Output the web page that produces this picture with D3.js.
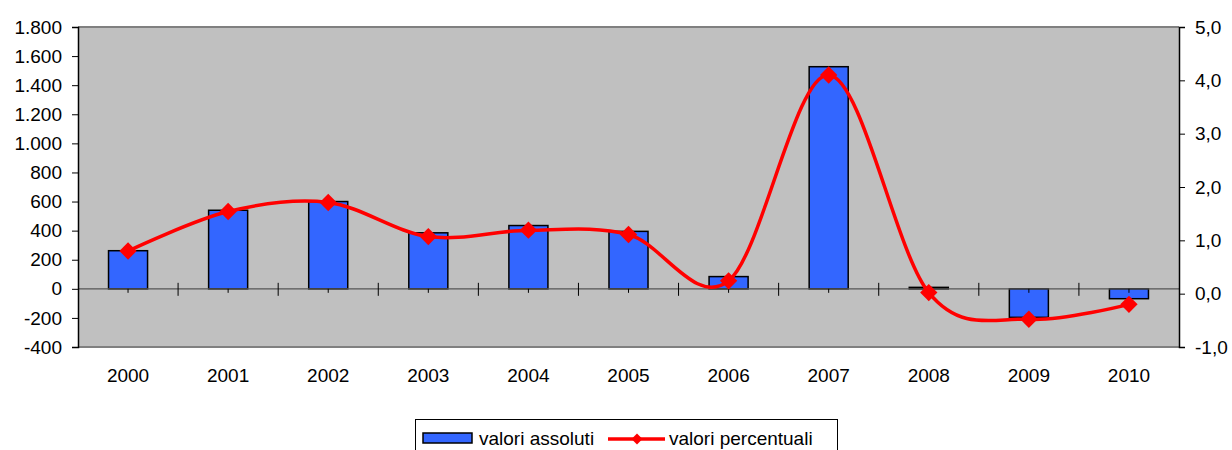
<!DOCTYPE html>
<html lang="it">
<head>
    <meta charset="UTF-8">
    <title>valori assoluti / percentuali</title>
    <script src="https://d3js.org/d3.v7.min.js"></script>
    <style>
        body { margin: 0; background: #fff; }
        text { font-family: "Liberation Sans", Arial, sans-serif; fill: #000; }
    </style>
</head>
<body>
<svg width="1232" height="450"></svg>
<script>
    // data
    let years = ["2000", "2001", "2002", "2003", "2004", "2005", "2006", "2007", "2008", "2009", "2010"]
    let absValues = [262, 540, 600, 385, 435, 395, 84, 1527, 10, -196, -68]
    let pctValues = [0.80, 1.54, 1.71, 1.07, 1.19, 1.11, 0.24, 4.10, 0.02, -0.48, -0.20]
    let leftTicks = [-400, -200, 0, 200, 400, 600, 800, 1000, 1200, 1400, 1600, 1800]
    let rightTicks = [-1, 0, 1, 2, 3, 4, 5]

    let svg = d3.select('svg')
    let plotLeft = 78, plotRight = 1179, plotTop = 27, plotBottom = 347

    let locale = d3.formatLocale({decimal: ",", thousands: ".", grouping: [3], currency: ["", "€"], minus: "-"})
    let fmtLeft = locale.format(",d")
    let fmtRight = locale.format(".1f")

    let x = d3.scaleBand().domain(years).range([plotLeft, plotRight]).padding(0)
    let yL = d3.scaleLinear().domain([-400, 1800]).range([plotBottom, plotTop])
    let yR = d3.scaleLinear().domain([-1, 5]).range([plotBottom, plotTop])
    let cx = d => x(d) + x.step() / 2

    // plot area
    svg.append("rect")
        .attr("x", plotLeft).attr("y", plotTop)
        .attr("width", plotRight - plotLeft).attr("height", plotBottom - plotTop)
        .attr("fill", "#c0c0c0")
    svg.append("line").attr("x1", plotLeft).attr("x2", plotRight).attr("y1", plotTop).attr("y2", plotTop)
        .attr("stroke", "#808080").attr("stroke-width", 2)
    svg.append("line").attr("x1", plotLeft).attr("x2", plotRight).attr("y1", plotBottom).attr("y2", plotBottom)
        .attr("stroke", "#808080").attr("stroke-width", 2)

    // bars
    let barW = x.step() * 0.39
    svg.append("g").selectAll("rect")
        .data(absValues)
        .enter()
        .append("rect")
        .attr("x", (d, i) => cx(years[i]) - barW / 2)
        .attr("y", d => Math.min(yL(d), yL(0)))
        .attr("width", barW)
        .attr("height", d => Math.max(Math.abs(yL(d) - yL(0)), 1))
        .attr("fill", "#3366ff")
        .attr("stroke", "#000")
        .attr("stroke-width", 1.5)

    // zero line with category ticks
    let zeroY = yL(0)
    svg.append("line").attr("x1", plotLeft).attr("x2", plotRight).attr("y1", zeroY).attr("y2", zeroY)
        .attr("stroke", "#555").attr("stroke-width", 1.2)
    let xg = svg.append("g")
    xg.selectAll(".bt")
        .data(years.slice(1))
        .enter()
        .append("line")
        .attr("x1", d => x(d)).attr("x2", d => x(d))
        .attr("y1", zeroY - 6).attr("y2", zeroY + 7)
        .attr("stroke", "#000").attr("stroke-width", 1)
    xg.selectAll(".ct")
        .data(years)
        .enter()
        .append("line")
        .attr("x1", cx).attr("x2", cx)
        .attr("y1", zeroY).attr("y2", zeroY + 4)
        .attr("stroke", "#000").attr("stroke-width", 1)

    // x labels
    svg.append("g").selectAll("text")
        .data(years)
        .enter()
        .append("text")
        .attr("x", cx)
        .attr("y", 382)
        .attr("text-anchor", "middle")
        .style("font-size", "19px")
        .text(d => d)

    // left axis
    let axL = svg.append("g")
        .attr("transform", `translate(${plotLeft},0)`)
        .call(d3.axisLeft(yL).tickValues(leftTicks).tickFormat(fmtLeft).tickSizeOuter(0).tickSize(6).tickPadding(10))
    axL.select(".domain").attr("stroke", "#000").attr("stroke-width", 1.5)
    axL.selectAll("text").style("font-size", "19px").attr("font-family", null)

    // right axis
    let axR = svg.append("g")
        .attr("transform", `translate(${plotRight},0)`)
        .call(d3.axisRight(yR).tickValues(rightTicks).tickFormat(fmtRight).tickSizeOuter(0).tickSize(6).tickPadding(10))
    axR.select(".domain").attr("stroke", "#000").attr("stroke-width", 1.5)
    axR.selectAll("text").style("font-size", "19px").attr("font-family", null)

    // percent line
    let line = d3.line()
        .x((d, i) => cx(years[i]))
        .y(d => yR(d))
        .curve(d3.curveCardinal.tension(0))
    svg.append("path")
        .datum(pctValues)
        .attr("d", line)
        .attr("fill", "none")
        .attr("stroke", "#ff0000")
        .attr("stroke-width", 3.5)

    svg.append("g").selectAll("path")
        .data(pctValues)
        .enter()
        .append("path")
        .attr("transform", (d, i) => `translate(${cx(years[i])},${yR(d)}) rotate(45)`)
        .attr("d", d3.symbol().type(d3.symbolSquare).size(150))
        .attr("fill", "#ff0000")

    // legend
    let lg = svg.append("g")
    lg.append("rect")
        .attr("x", 415.5).attr("y", 419.5)
        .attr("width", 422).attr("height", 40)
        .attr("fill", "#fff").attr("stroke", "#000").attr("stroke-width", 1)
    lg.append("rect")
        .attr("x", 423).attr("y", 433)
        .attr("width", 49).attr("height", 10)
        .attr("fill", "#3366ff").attr("stroke", "#000").attr("stroke-width", 1.5)
    lg.append("text").attr("x", 479).attr("y", 445).style("font-size", "19px").text("valori assoluti")
    lg.append("line")
        .attr("x1", 608).attr("x2", 665).attr("y1", 439).attr("y2", 439)
        .attr("stroke", "#ff0000").attr("stroke-width", 3.5)
    lg.append("path")
        .attr("transform", "translate(637,439) rotate(45)")
        .attr("d", d3.symbol().type(d3.symbolSquare).size(60))
        .attr("fill", "#ff0000")
    lg.append("text").attr("x", 669).attr("y", 445).style("font-size", "19px").text("valori percentuali")
</script>
</body>
</html>
